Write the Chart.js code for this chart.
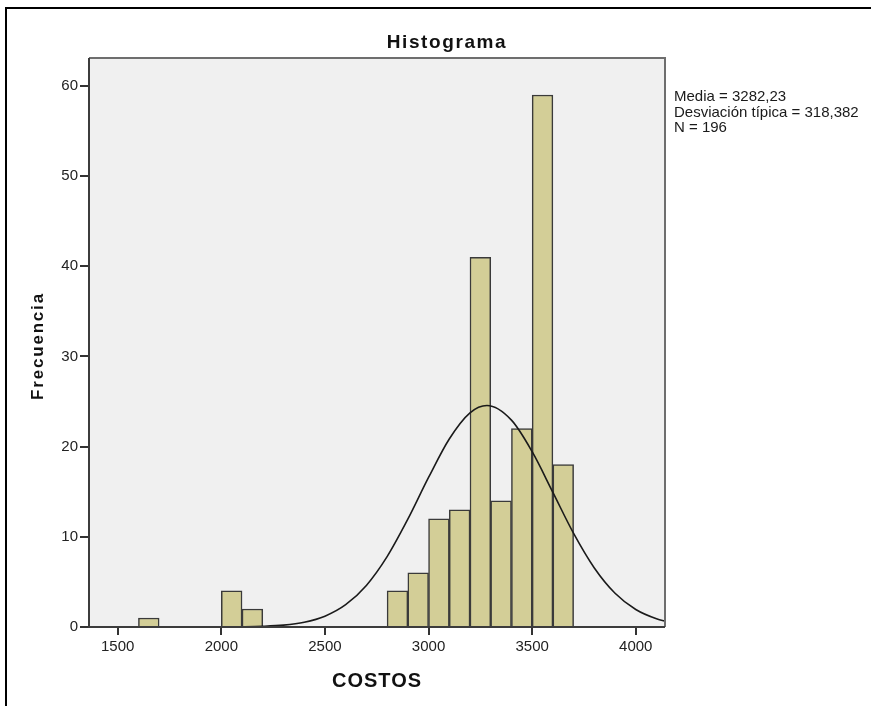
<!DOCTYPE html>
<html>
<head>
<meta charset="utf-8">
<script src="https://cdn.jsdelivr.net/npm/chart.js@4"></script>
<style>
  html, body { margin: 0; padding: 0; background: #fff; }
  canvas { display: block; }
</style>
</head>
<body>
<canvas id="histo_chart" width="871" height="706"></canvas>
<script>
// histogram bins (width 100), centre of each bin and its frequency
const binCenters = [1650, 2050, 2150, 2850, 2950, 3050, 3150, 3250, 3350, 3450, 3550, 3650];
const counts = [1, 4, 2, 4, 6, 12, 13, 41, 14, 22, 59, 18];

// normal curve
const curveX = [1350, 1600, 1800, 2000, 2100, 2200, 2300, 2400, 2500, 2600, 2700, 2800, 2900, 3000, 3100, 3200, 3282, 3400, 3500, 3600, 3700, 3800, 3900, 4000, 4100, 4150];
const curveY = [0, 0, 0, 0.01, 0.03, 0.08, 0.21, 0.53, 1.2, 2.47, 4.61, 7.8, 11.95, 16.58, 20.85, 23.75, 24.56, 22.94, 19.44, 14.93, 10.38, 6.55, 3.74, 1.94, 0.91, 0.6];

const xTicks = [1500, 2000, 2500, 3000, 3500, 4000];
const yTicks = [0, 10, 20, 30, 40, 50, 60];

const titleText = 'Histograma';
const xTitle = 'COSTOS';
const yTitle = 'Frecuencia';
const statsLines = ['Media = 3282,23', 'Desviación típica = 318,382', 'N = 196'];

const FONT = '"Liberation Sans", Arial, sans-serif';

// background, frame and the texts with SPSS-like letter spacing
const spssLook = {
  id: 'spssLook',
  beforeDraw(chart) {
    const ctx = chart.ctx, a = chart.chartArea;
    ctx.save();
    ctx.fillStyle = '#ffffff';
    ctx.fillRect(0, 0, chart.width, chart.height);
    ctx.fillStyle = '#f0f0f0';
    ctx.fillRect(a.left, a.top, a.right - a.left, a.bottom - a.top);
    // outer black border
    ctx.strokeStyle = '#000';
    ctx.lineWidth = 2;
    ctx.beginPath();
    ctx.moveTo(6, chart.height);
    ctx.lineTo(6, 8);
    ctx.lineTo(chart.width, 8);
    ctx.stroke();
    ctx.restore();
  },
  afterDatasetsDraw(chart) {
    const ctx = chart.ctx, a = chart.chartArea;
    ctx.save();
    ctx.lineWidth = 2;
    ctx.strokeStyle = '#6e6e6e';
    ctx.beginPath();
    ctx.moveTo(a.left, a.top);
    ctx.lineTo(a.right, a.top);
    ctx.lineTo(a.right, a.bottom);
    ctx.stroke();
    ctx.strokeStyle = '#3c3c3c';
    ctx.beginPath();
    ctx.moveTo(a.left, a.top);
    ctx.lineTo(a.left, a.bottom);
    ctx.lineTo(a.right, a.bottom);
    ctx.stroke();
    ctx.restore();
  },
  afterDraw(chart) {
    const ctx = chart.ctx, a = chart.chartArea;
    ctx.save();
    ctx.fillStyle = '#111';
    ctx.textBaseline = 'alphabetic';
    ctx.textAlign = 'center';

    ctx.font = 'bold 19px ' + FONT;
    ctx.letterSpacing = '1.6px';
    ctx.fillText(titleText, 447, 48);

    ctx.font = 'bold 20px ' + FONT;
    ctx.letterSpacing = '1px';
    ctx.fillText(xTitle, (a.left + a.right) / 2, 687);

    ctx.save();
    ctx.translate(43, 346);
    ctx.rotate(-Math.PI / 2);
    ctx.font = 'bold 17px ' + FONT;
    ctx.letterSpacing = '1.8px';
    ctx.fillText(yTitle, 0, 0);
    ctx.restore();

    ctx.textAlign = 'left';
    ctx.font = '15px ' + FONT;
    ctx.letterSpacing = '0px';
    ctx.fillStyle = '#1a1a1a';
    statsLines.forEach(function(line, i) {
      ctx.fillText(line, 674, 101 + i * 15.5);
    });
    ctx.restore();
  }
};

const context = document.getElementById('histo_chart').getContext('2d');
const histo_chart = new Chart(context, {
  type: 'bar',
  data: {
    datasets: [
      {
        type: 'line',
        label: 'Normal',
        data: curveX.map(function(x, i) { return { x: x, y: curveY[i] }; }),
        borderColor: '#1a1a1a',
        borderWidth: 1.6,
        pointRadius: 0,
        fill: false,
        cubicInterpolationMode: 'monotone',
        order: 0
      },
      {
        label: 'Frecuencia',
        data: binCenters.map(function(x, i) { return { x: x, y: counts[i] }; }),
        backgroundColor: 'rgb(211, 206, 151)',
        borderColor: '#3a3a3a',
        borderWidth: 1.5,
        barPercentage: 1,
        categoryPercentage: 1,
        order: 1
      }
    ]
  },
  options: {
    responsive: false,
    animation: false,
    devicePixelRatio: 1,
    layout: { padding: { left: 49, right: 206, top: 58, bottom: 39 } },
    plugins: {
      legend: { display: false },
      title: { display: false },
      tooltip: { enabled: false }
    },
    scales: {
      x: {
        type: 'linear',
        offset: false,
        min: 1361.5,
        max: 4141,
        afterBuildTicks: function(scale) {
          scale.ticks = xTicks.map(function(v) { return { value: v }; });
        },
        afterFit: function(scale) { scale.height = 40; },
        border: { display: false },
        grid: { offset: false, drawOnChartArea: false, drawTicks: true, tickLength: 8, color: '#333', lineWidth: 2 },
        ticks: {
          padding: 3,
          color: '#222',
          maxRotation: 0,
          autoSkip: false,
          font: { family: FONT, size: 15 },
          callback: function(v) { return String(v); }
        }
      },
      y: {
        min: 0,
        max: 63.1,
        afterBuildTicks: function(scale) {
          scale.ticks = yTicks.map(function(v) { return { value: v }; });
        },
        afterFit: function(scale) { scale.width = 40; },
        border: { display: false },
        grid: { drawOnChartArea: false, drawTicks: true, tickLength: 9, color: '#333', lineWidth: 2 },
        ticks: {
          padding: 2,
          color: '#222',
          autoSkip: false,
          font: { family: FONT, size: 15 }
        }
      }
    }
  },
  plugins: [spssLook]
});
</script>
</body>
</html>
